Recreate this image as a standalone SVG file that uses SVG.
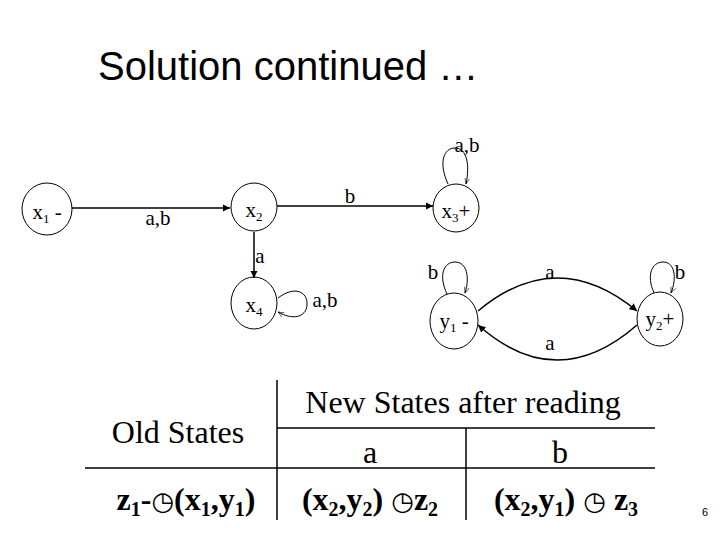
<svg xmlns="http://www.w3.org/2000/svg" width="720" height="540" viewBox="0 0 720 540">
<style>
.n{fill:none;stroke:#000;stroke-width:1}
.e{fill:none;stroke:#000;stroke-width:1.5}
.l{fill:none;stroke:#000;stroke-width:1}
.t{font-family:"Liberation Serif",serif;font-size:21px;text-anchor:middle}
.s{font-size:13px}
.tb{font-family:"Liberation Serif",serif;font-size:32px;text-anchor:middle}
.bd{font-weight:bold}
.g{stroke:#000;stroke-width:1.5}
</style>
<defs>
<marker id="ar" viewBox="0 0 10 10" refX="10" refY="5" markerWidth="5" markerHeight="5" orient="auto"><path d="M0,0L10,5L0,10z"/></marker>
<marker id="ao" viewBox="0 0 10 10" refX="10" refY="5" markerWidth="6" markerHeight="6" orient="auto"><path d="M0,1L10,5L0,9" fill="none" stroke="#000"/></marker>
</defs>
<rect width="720" height="540" fill="#fff"/>
<text x="98" y="80" font-family="Liberation Sans,sans-serif" font-size="40">Solution continued …</text>
<g id="connectors">
<line class="e" x1="72" y1="208" x2="230" y2="208" marker-end="url(#ar)"/>
<text class="t" x="158" y="225">a,b</text>
<line class="e" x1="277" y1="206" x2="433" y2="206" marker-end="url(#ar)"/>
<text class="t" x="350" y="203">b</text>
<line class="e" x1="254" y1="232" x2="254" y2="278" marker-end="url(#ar)"/>
<text class="t" x="260" y="263">a</text>
<path class="l" d="M448,184 C438,162 444,148 455,148 C467,148 470,165 466,184" marker-end="url(#ao)"/>
<text class="t" x="467" y="152">a,b</text>
<path class="l" d="M278,298 C295,285 308,292 307,305 C306,318 292,320 278,312" marker-end="url(#ao)"/>
<text class="t" x="325" y="307">a,b</text>
<path class="l" d="M447,294 C438,275 444,262 455,262 C467,262 470,278 465,293" marker-end="url(#ao)"/>
<text class="t" x="433" y="279">b</text>
<path class="l" d="M654,293 C646,275 652,262 663,262 C675,262 677,278 671,293" marker-end="url(#ao)"/>
<text class="t" x="680" y="279">b</text>
<path class="e" d="M478,311 Q557,245 637,311" marker-end="url(#ar)"/>
<text class="t" x="550" y="279">a</text>
<path class="e" d="M637,325 Q557,395 478,325" marker-end="url(#ar)"/>
<text class="t" x="550" y="350">a</text>
</g>
<g id="x1"><ellipse class="n" cx="47" cy="209" rx="25" ry="26"/><text class="t" x="47" y="219">x<tspan class="s" dy="4">1</tspan><tspan dy="-4"> -</tspan></text></g>
<g id="x2"><ellipse class="n" cx="254" cy="207" rx="23" ry="24"/><text class="t" x="254" y="217">x<tspan class="s" dy="4">2</tspan></text></g>
<g id="x3"><ellipse class="n" cx="456" cy="208" rx="23" ry="24"/><text class="t" x="456" y="218">x<tspan class="s" dy="4">3</tspan><tspan dy="-4">+</tspan></text></g>
<g id="x4"><ellipse class="n" cx="254" cy="303" rx="23" ry="26"/><text class="t" x="254" y="312">x<tspan class="s" dy="4">4</tspan></text></g>
<g id="y1"><ellipse class="n" cx="454" cy="321" rx="24" ry="28"/><text class="t" x="454" y="328">y<tspan class="s" dy="4">1</tspan><tspan dy="-4"> -</tspan></text></g>
<g id="y2"><ellipse class="n" cx="660" cy="319" rx="23" ry="27"/><text class="t" x="660" y="326">y<tspan class="s" dy="4">2</tspan><tspan dy="-4">+</tspan></text></g>
<g id="table">
<line class="g" x1="277" y1="380" x2="277" y2="520"/>
<line class="g" x1="277" y1="428" x2="655" y2="428"/>
<line class="g" x1="466" y1="428" x2="466" y2="520"/>
<line class="g" x1="85" y1="468" x2="655" y2="468"/>
<text class="tb" x="463" y="413">New States after reading</text>
<text class="tb" x="178" y="443" font-size="30">Old States</text>
<text class="tb" x="370" y="463">a</text>
<text class="tb" x="560" y="463">b</text>
<text class="tb bd" x="186" y="510">z<tspan font-size="20" dy="6">1</tspan><tspan dy="-6">-</tspan><tspan font-family="DejaVu Sans,sans-serif" font-size="26">◷</tspan>(x<tspan font-size="20" dy="6">1</tspan><tspan dy="-6">,y</tspan><tspan font-size="20" dy="6">1</tspan><tspan dy="-6">)</tspan></text>
<text class="tb bd" x="370" y="510">(x<tspan font-size="20" dy="6">2</tspan><tspan dy="-6">,y</tspan><tspan font-size="20" dy="6">2</tspan><tspan dy="-6">) </tspan><tspan font-family="DejaVu Sans,sans-serif" font-size="26">◷</tspan>z<tspan font-size="20" dy="6">2</tspan></text>
<text class="tb bd" x="566" y="510">(x<tspan font-size="20" dy="6">2</tspan><tspan dy="-6">,y</tspan><tspan font-size="20" dy="6">1</tspan><tspan dy="-6">) </tspan><tspan font-family="DejaVu Sans,sans-serif" font-size="26">◷</tspan><tspan> z</tspan><tspan font-size="20" dy="6">3</tspan></text>
<text x="705" y="516" font-family="Liberation Sans,sans-serif" font-size="11" text-anchor="middle">6</text>
</g>
</svg>
